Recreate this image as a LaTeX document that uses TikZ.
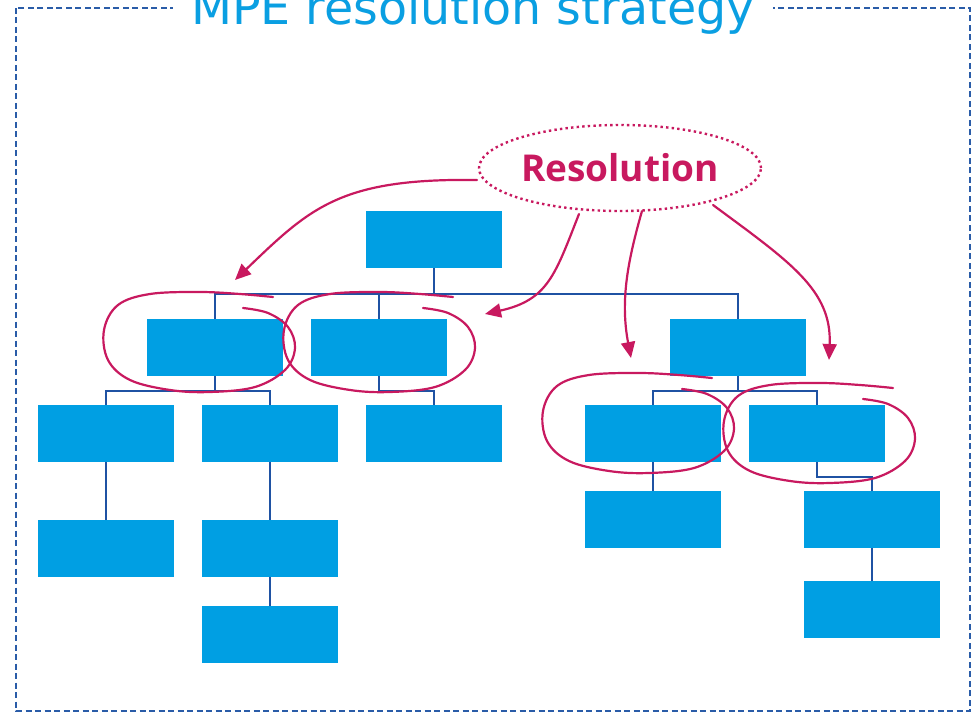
\documentclass[tikz,border=0pt]{standalone}
\usepackage{fontspec}
\setmainfont{DejaVu Sans}
\newfontfamily\titlefont{DejaVu Sans}
\newfontfamily\labelfont{Open Sans}
\usetikzlibrary{shapes.geometric,arrows.meta}
\definecolor{boxblue}{HTML}{009FE3}
\definecolor{linkblue}{HTML}{1F52A3}
\definecolor{frameblue}{HTML}{2A5CA8}
\definecolor{handink}{HTML}{C8195F}
\definecolor{titlecyan}{HTML}{0A9FE2}

\begin{document}
\begin{tikzpicture}[x=1pt,y=-1pt,
  box/.style={fill=boxblue, inner sep=0pt, minimum width=136pt, minimum height=57pt},
  conn/.style={draw=linkblue, line width=1.8pt},
  frameline/.style={draw=frameblue, line width=1.4pt, dash pattern=on 6pt off 3.5pt},
  ink/.style={draw=handink, line width=2.2pt, line cap=round, line join=round},
  inkarrow/.style={ink, -{Triangle[length=16pt,width=14pt]}},
  loopmark/.pic={
    \draw[ink] plot[smooth, tension=0.6] coordinates {
      (273,297) (240,294) (200,292) (150,294) (118,305) (104,330) (108,360)
      (130,380) (170,390) (210,392) (255,387) (285,370) (295,348) (288,327)
      (268,313) (243,308)};
  },
]
\useasboundingbox (0,0) rectangle (979,714);
\clip (0,0) rectangle (979,714);

% outer dashed frame and its title
\draw[frameline] (16,8) rectangle (970,711);
\node[fill=white, inner xsep=18pt, inner ysep=0pt, anchor=base, text=titlecyan,
      font=\titlefont\fontsize{47.5}{50}\selectfont] (title) at (473,25)
  {MPE resolution strategy};

% tree of boxes
\node[box] (root) at (434,239.5) {};
\node[box] (A)    at (215,347.5) {};
\node[box] (B)    at (379,347.5) {};
\node[box] (C)    at (738,347.5) {};
\node[box] (A1)   at (106,433.5) {};
\node[box] (A2)   at (270,433.5) {};
\node[box] (B1)   at (434,433.5) {};
\node[box] (C1)   at (653,433.5) {};
\node[box] (C2)   at (817,433.5) {};
\node[box] (A1a)  at (106,548.5) {};
\node[box] (A2a)  at (270,548.5) {};
\node[box] (C1a)  at (653,519.5) {};
\node[box] (C2a)  at (872,519.5) {};
\node[box] (A2aa) at (270,634.5) {};
\node[box] (C2aa) at (872,609.5) {};

% tree connectors
\draw[conn] (root.south) -- ++(0,26) -| (A.north);
\draw[conn] (root.south) -- ++(0,26) -| (B.north);
\draw[conn] (root.south) -- ++(0,26) -| (C.north);
\draw[conn] (A.south) -- ++(0,15) -| (A1.north);
\draw[conn] (A.south) -- ++(0,15) -| (A2.north);
\draw[conn] (B.south) -- ++(0,15) -| (B1.north);
\draw[conn] (C.south) -- ++(0,15) -| (C1.north);
\draw[conn] (C.south) -- ++(0,15) -| (C2.north);
\draw[conn] (A1.south) -- (A1a.north);
\draw[conn] (A2.south) -- (A2a.north);
\draw[conn] (A2a.south) -- (A2aa.north);
\draw[conn] (C1.south) -- (C1a.north);
\draw[conn] (C2.south) -- ++(0,15) -| (C2a.north);
\draw[conn] (C2a.south) -- (C2aa.north);

% resolution bubble
\node[ellipse, draw=handink, line width=2.4pt, dash pattern=on 2.4pt off 3.2pt,
      minimum width=282pt, minimum height=86pt, inner sep=0pt, text=handink,
      font=\labelfont\bfseries\fontsize{37}{40}\selectfont] (res) at (620,168)
  {\raisebox{-3pt}{Resolution}};

% free ends of the hand-drawn arrows
\coordinate (s1) at (477,180);
\coordinate (t1) at (235,280);
\coordinate (s2) at (579,214);
\coordinate (t2) at (485,314);
\coordinate (s3) at (642,211);
\coordinate (t3) at (631,358);
\coordinate (s4) at (713,205);
\coordinate (t4) at (829,360);

\draw[inkarrow] (s1) .. controls (340,178) and (310,208) .. (t1);
\draw[inkarrow] (s2) .. controls (555,275) and (548,300) .. (t2);
\draw[inkarrow] (s3) .. controls (628,260) and (620,300) .. (t3);
\draw[inkarrow] (s4) .. controls (790,262) and (832,290) .. (t4);

% hand-drawn loops round the chosen boxes
\pic at (0,0) {loopmark};
\pic at (180,0) {loopmark};
\pic at (439,81) {loopmark};
\pic at (620,91) {loopmark};
\end{tikzpicture}
\end{document}
